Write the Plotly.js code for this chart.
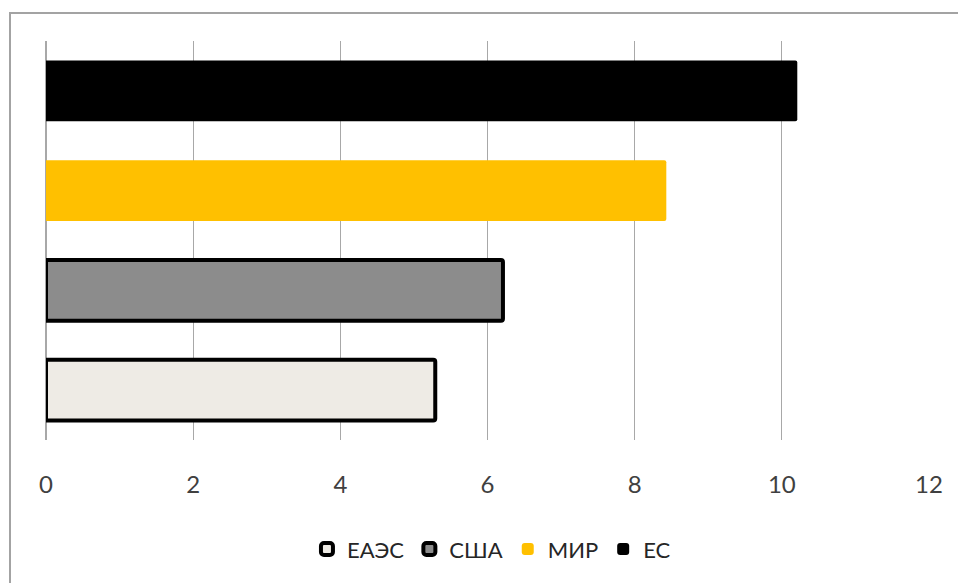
<!DOCTYPE html>
<html>
<head>
<meta charset="utf-8">
<script src="https://cdn.plot.ly/plotly-3.0.1.min.js"></script>
<style>
  html, body { margin: 0; padding: 0; background: #fff; }
  #wrap { position: relative; width: 958px; height: 583px; overflow: hidden; }
  #chart { position: absolute; left: 0; top: 0; width: 958px; height: 583px; }
  #frame { position: absolute; left: 9px; top: 12px; width: 1200px; height: 1200px;
           border: 2px solid #a3a3a3; pointer-events: none; }
</style>
</head>
<body>
<div id="wrap">
  <div id="chart"></div>
  <div id="frame"></div>
</div>
<script>
// Data
const names = ["ЕАЭС", "США", "МИР", "ЕС"];
const values = [5.29, 6.21, 8.43, 10.21];
const fillColors = ["#EEEBE5", "#8C8C8C", "#FFC000", "#000000"];
const lineColors = ["#000000", "#000000", "#FFC000", "#000000"];
const lineWidths = [4, 4, 0, 0];
const xTicks = [0, 2, 4, 6, 8, 10, 12];

const traces = names.map((n, i) => ({
  type: "bar",
  orientation: "h",
  name: n,
  y: [n],
  x: [values[i]],
  marker: {
    color: fillColors[i],
    line: { color: lineColors[i], width: lineWidths[i] },
    cornerradius: 2
  },
  hoverinfo: "x+name"
}));

const layout = {
  width: 958,
  height: 583,
  paper_bgcolor: "rgba(0,0,0,0)",
  plot_bgcolor: "rgba(0,0,0,0)",
  margin: { l: 46, r: 29, t: 41, b: 143 },
  barmode: "overlay",
  bargap: 0.39,
  showlegend: true,
  font: { family: "Lato, 'Open Sans', sans-serif", color: "#404040" },
  xaxis: {
    range: [0, 12],
    tickvals: xTicks,
    ticktext: xTicks.map(String),
    showgrid: true,
    gridcolor: "#A8A8A8",
    gridwidth: 1.3,
    zeroline: true,
    zerolinecolor: "#A8A8A8",
    zerolinewidth: 1.3,
    showline: false,
    ticks: "",
    ticklabelstandoff: 28,
    tickfont: { size: 24, color: "#404040", family: "Lato, 'Open Sans', sans-serif" },
    fixedrange: true
  },
  yaxis: {
    type: "category",
    categoryorder: "array",
    categoryarray: names,
    range: [-0.5, 3.5],
    showticklabels: false,
    showgrid: false,
    zeroline: false,
    showline: false,
    ticks: "",
    fixedrange: true
  },
  legend: {
    orientation: "h",
    xref: "container",
    yref: "container",
    x: 0.513,
    xanchor: "center",
    y: 0.058,
    yanchor: "middle",
    font: { size: 22, color: "#262626", family: "Lato, 'Open Sans', sans-serif" },
    traceorder: "normal",
    itemclick: false
  }
};

Plotly.newPlot("chart", traces, layout, { displayModeBar: false, staticPlot: true });
</script>
</body>
</html>
